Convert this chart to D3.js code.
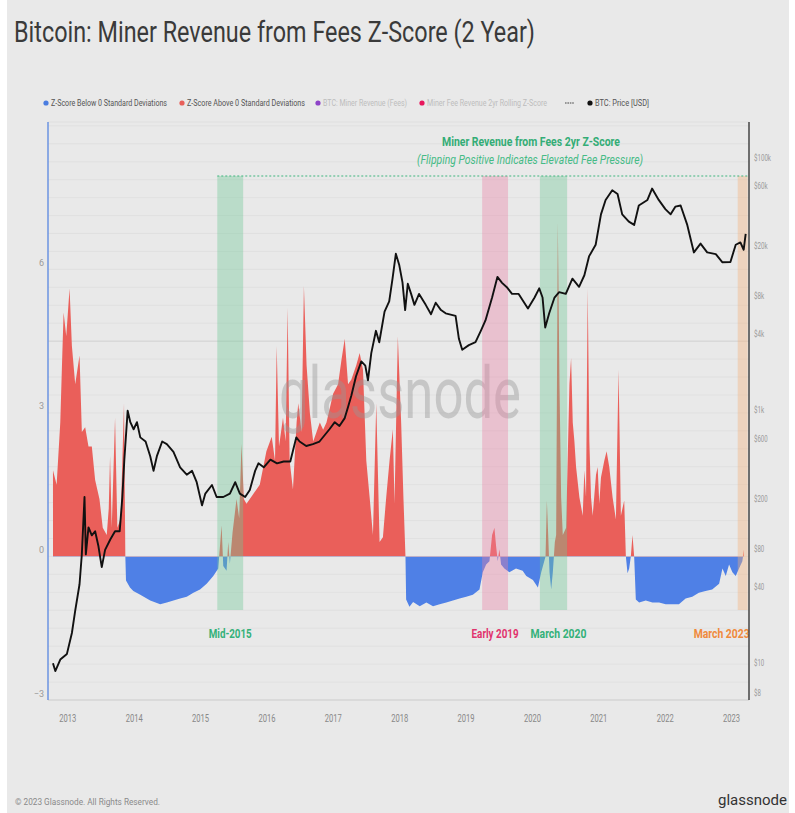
<!DOCTYPE html>
<html>
<head>
<meta charset="utf-8">
<script src="https://cdn.jsdelivr.net/npm/d3@7"></script>
<style>
  body { margin: 0; background: #fff; }
  svg { display: block; }
  text { font-family: Roboto, "Noto Sans", sans-serif; }
</style>
</head>
<body>
<svg id="chart" width="795" height="813"></svg>
<script>
// z-score of miner fee revenue (2yr)
var zDates = [2012.785, 2012.84, 2012.895, 2012.925, 2012.945, 2012.985, 2013.035, 2013.07, 2013.12, 2013.185,
  2013.22, 2013.27, 2013.32, 2013.37, 2013.42, 2013.485, 2013.535, 2013.595, 2013.625, 2013.645,
  2013.67, 2013.72, 2013.755, 2013.805, 2013.855, 2013.875,
  2013.885, 2013.945, 2013.995, 2014.10, 2014.25, 2014.40, 2014.50, 2014.60, 2014.70, 2014.80,
  2014.90, 2015.00, 2015.10, 2015.20, 2015.275, 2015.325, 2015.35, 2015.40, 2015.425, 2015.45,
  2015.49, 2015.55, 2015.59, 2015.625, 2015.66, 2015.70, 2015.80, 2015.90, 2016.00, 2016.08,
  2016.13, 2016.155, 2016.19, 2016.25, 2016.29, 2016.32, 2016.35, 2016.40, 2016.455, 2016.48,
  2016.53, 2016.565, 2016.605, 2016.655, 2016.705, 2016.755, 2016.805, 2016.855, 2016.905, 2016.955,
  2017.005, 2017.08, 2017.13, 2017.18, 2017.23, 2017.28, 2017.355, 2017.405, 2017.455, 2017.505,
  2017.555, 2017.605, 2017.655, 2017.705, 2017.755, 2017.805, 2017.855, 2017.905, 2017.93, 2017.98,
  2018.03, 2018.065, 2018.095,
  2018.105, 2018.155, 2018.21, 2018.31, 2018.41, 2018.51, 2018.61, 2018.71, 2018.81, 2018.91,
  2019.01, 2019.11, 2019.21, 2019.26, 2019.31, 2019.36, 2019.40, 2019.435, 2019.46, 2019.485,
  2019.51, 2019.535, 2019.585, 2019.66, 2019.76, 2019.86, 2019.915, 2020.015, 2020.09, 2020.14,
  2020.205, 2020.225, 2020.245, 2020.265, 2020.29, 2020.315, 2020.345, 2020.365, 2020.39, 2020.415,
  2020.44, 2020.465, 2020.515, 2020.565, 2020.59, 2020.615, 2020.64, 2020.665, 2020.715, 2020.765,
  2020.79, 2020.815, 2020.84, 2020.865, 2020.89, 2020.915, 2020.965, 2020.99, 2021.015, 2021.04,
  2021.09, 2021.125, 2021.165, 2021.215, 2021.265, 2021.305, 2021.34, 2021.39, 2021.415, 2021.44,
  2021.465, 2021.49, 2021.515, 2021.54, 2021.565, 2021.615, 2021.715, 2021.815, 2021.915, 2022.015,
  2022.115, 2022.215, 2022.315, 2022.415, 2022.515, 2022.615, 2022.715, 2022.82, 2022.87, 2022.92,
  2022.97, 2023.02, 2023.07, 2023.12, 2023.17, 2023.195];
var zValues = [1.8, 1.5, 2.8, 4.2, 5.1, 4.6, 5.6, 4.4, 3.6, 4.2,
  2.6, 2.7, 2.3, 2.3, 1.6, 1.2, 0.6, 0.45, 1.0, 2.1,
  0.6, 2.9, 0.6, 0.8, 3.2, 0,
  -0.5, -0.65, -0.72, -0.8, -0.92, -1.0, -0.96, -0.92, -0.88, -0.84,
  -0.76, -0.69, -0.57, -0.41, -0.25, 0.65, -0.2, -0.3, 0.3, -0.15,
  0.5, 1.2, 0.8, 2.35, 1.2, 1.1, 1.3, 1.5, 2.2, 2.5,
  2.0, 4.4, 2.3, 2.9, 2.4, 5.2, 2.0, 1.4, 2.8, 3.2,
  2.6, 5.65, 4.0, 3.0, 2.4, 2.6, 2.8, 2.65, 2.8, 3.1,
  3.4, 3.6, 4.1, 4.55, 3.6, 3.7, 4.0, 4.25, 3.9, 2.0,
  1.24, 0.45, 3.2, 0.3, 0.4, 1.24, 2.0, 2.66, 1.1, 4.6,
  2.8, 1.2, 0,
  -0.9, -1.05, -0.95, -1.04, -0.96, -1.04, -1.0, -0.96, -0.92, -0.88,
  -0.84, -0.8, -0.69, -0.33, -0.17, -0.1, 0.45, 0.6, 0.22, -0.1,
  0.15, -0.17, -0.25, -0.33, -0.25, -0.3, -0.41, -0.49, -0.65, -0.33,
  0, 1.17, 0.45, -0.33, -0.69, -0.33, 0.3, 0.45, 7.0, 3.6,
  1.24, 0.45, 0.6, 3.6, 4.15, 2.8, 2.4, 1.87, 1.24, 0.85,
  1.8, 1.24, 5.6, 2.4, 1.24, 0.85, 1.7, 1.87, 1.1, 1.65,
  2.0, 2.2, 1.87, 1.24, 0.77, 3.9, 0.85, 1.17, 0, -0.35,
  -0.25, 0, 0.45, 0, -0.9, -0.96, -0.92, -0.96, -0.96, -1.0,
  -1.0, -1.0, -0.88, -0.84, -0.76, -0.72, -0.69, -0.57, -0.25, -0.41,
  -0.17, -0.33, -0.41, -0.25, -0.1, 0.15];

// BTC price (USD)
var priceDates = [2012.785, 2012.82, 2012.895, 2012.995, 2013.07, 2013.12, 2013.185, 2013.22, 2013.26, 2013.28,
  2013.32, 2013.37, 2013.42, 2013.47, 2013.52, 2013.57, 2013.65, 2013.72, 2013.79, 2013.83,
  2013.86, 2013.91, 2013.95, 2014.00, 2014.05, 2014.10, 2014.18, 2014.25, 2014.30, 2014.35,
  2014.43, 2014.50, 2014.60, 2014.70, 2014.80, 2014.88, 2014.95, 2015.03, 2015.08, 2015.18,
  2015.25, 2015.35, 2015.45, 2015.53, 2015.60, 2015.68, 2015.75, 2015.83, 2015.88, 2015.96,
  2016.06, 2016.16, 2016.26, 2016.36, 2016.45, 2016.50, 2016.60, 2016.70, 2016.80, 2016.95,
  2017.03, 2017.10, 2017.18, 2017.23, 2017.28, 2017.35, 2017.43, 2017.49, 2017.53, 2017.58,
  2017.65, 2017.70, 2017.78, 2017.85, 2017.90, 2017.95, 2018.00, 2018.05, 2018.09, 2018.13,
  2018.18, 2018.23, 2018.30, 2018.40, 2018.48, 2018.55, 2018.63, 2018.70, 2018.85, 2018.90,
  2018.95, 2019.05, 2019.15, 2019.23, 2019.30, 2019.40, 2019.48, 2019.55, 2019.63, 2019.70,
  2019.80, 2019.94, 2020.04, 2020.11, 2020.16, 2020.20, 2020.26, 2020.34, 2020.41, 2020.51,
  2020.61, 2020.71, 2020.79, 2020.86, 2020.96, 2021.04, 2021.11, 2021.21, 2021.29, 2021.36,
  2021.46, 2021.54, 2021.61, 2021.74, 2021.81, 2021.91, 2022.01, 2022.09, 2022.16, 2022.24,
  2022.34, 2022.44, 2022.54, 2022.64, 2022.77, 2022.87, 2022.99, 2023.07, 2023.14, 2023.19,
  2023.22];
var priceValues = [11.3, 9.8, 12.1, 13.4, 19.6, 29.5, 47.6, 82.6, 233, 82,
  134, 116, 125, 95, 65, 89, 108, 125, 125, 233,
  460, 1120, 910, 800, 910, 690, 640, 490, 375, 490,
  640, 610, 530, 400, 350, 375, 305, 200, 248, 290,
  233, 233, 248, 305, 248, 233, 265, 375, 430, 400,
  460, 430, 445, 445, 690, 640, 590, 610, 640, 800,
  910, 850, 980, 1200, 1480, 2100, 2750, 2550, 1950, 3200,
  4800, 3900, 6800, 8200, 12400, 19500, 16000, 11600, 7000, 11300,
  9400, 7700, 9400, 7700, 6500, 8000, 7000, 6600, 6300, 4150,
  3400, 3700, 3900, 4800, 5800, 8800, 12800, 11500, 10500, 9400,
  9400, 7200, 8800, 10400, 8800, 5100, 6600, 8800, 9700, 9400,
  12400, 10700, 13200, 18600, 23000, 40000, 52000, 62000, 58000, 40000,
  35000, 33000, 47000, 52000, 64000, 52000, 44000, 40000, 46000, 47000,
  33000, 20000, 23500, 20000, 19400, 16700, 16800, 23000, 24000, 21000,
  28000];

var yearTicks = [2013, 2014, 2015, 2016, 2017, 2018, 2019, 2020, 2021, 2022, 2023];
var zTicks = [-3, 0, 3, 6];
var priceTicks = [10, 40, 80, 200, 600, 1000, 4000, 8000, 20000, 60000, 100000];
var priceTickLabels = ["$10", "$40", "$80", "$200", "$600", "$1k", "$4k", "$8k", "$20k", "$60k", "$100k"];
var priceMinLabel = "$8";

var bandNames = ["Mid-2015", "Early 2019", "March 2020", "March 2023"];
var bandStarts = [2015.26, 2019.25, 2020.12, 2023.10];
var bandEnds = [2015.65, 2019.64, 2020.53, 2023.25];

var legendLabels = ["Z-Score Below 0 Standard Deviations", "Z-Score Above 0 Standard Deviations",
  "BTC: Miner Revenue (Fees)", "Miner Fee Revenue 2yr Rolling Z-Score", "BTC: Price [USD]"];

(function () {
    // styles
    var bandFill = ["rgba(110,200,150,0.38)", "rgba(235,130,165,0.38)", "rgba(110,200,150,0.38)", "rgba(245,175,120,0.38)"];
    var bandText = ["#34b179", "#e1336d", "#34b179", "#f08a3c"];
    var legendDot = ["#4a7de0", "#e8605a", "#8e44c8", "#e8175d", "#111"];
    var legendInk = ["#555", "#555", "#bdbdbd", "#bdbdbd", "#555"];
    var legendX = [46, 182, 318, 422, 590];
    var legendW = [116, 118, 84, 120, 54];

    var svg = d3.select("#chart");
    var plotLeft = 48, plotRight = 749, plotTop = 122, plotBottom = 700;

    svg.append("rect").attr("x", 7).attr("y", 0).attr("width", 782).attr("height", 813).attr("fill", "#e9e9e9");

    var x = d3.scaleLinear().domain([2012.71, 2023.27]).range([plotLeft, plotRight]);
    var yZ = d3.scaleLinear().domain([-3, 9.08]).range([plotBottom, plotTop]);
    var yP = d3.scaleLog().domain([5.79, 214800]).range([plotBottom, plotTop]);

    // title
    svg.append("text").attr("x", 14).attr("y", 42)
        .attr("font-size", 30).attr("fill", "#3a3a3a")
        .attr("textLength", 521).attr("lengthAdjust", "spacingAndGlyphs")
        .text("Bitcoin: Miner Revenue from Fees Z-Score (2 Year)");

    // legend
    var leg = svg.append("g").selectAll("g")
        .data(legendLabels)
        .enter()
        .append("g");
    leg.append("circle")
        .attr("cx", function (d, i) { return legendX[i]; })
        .attr("cy", 103)
        .attr("r", 2.6)
        .attr("fill", function (d, i) { return legendDot[i]; });
    leg.append("text")
        .attr("x", function (d, i) { return legendX[i] + 5; })
        .attr("y", 106)
        .attr("font-size", 8.5)
        .attr("fill", function (d, i) { return legendInk[i]; })
        .attr("textLength", function (d, i) { return legendW[i]; })
        .attr("lengthAdjust", "spacingAndGlyphs")
        .text(function (d) { return d; });
    svg.append("line").attr("x1", 565).attr("x2", 574).attr("y1", 103).attr("y2", 103)
        .attr("stroke", "#444").attr("stroke-width", 1).attr("stroke-dasharray", "1.6,0.8");

    // grid
    svg.append("g").selectAll("line")
        .data(d3.range(-3, 9.01, 0.375))
        .enter()
        .append("line")
        .attr("x1", plotLeft).attr("x2", plotRight)
        .attr("y1", function (d) { return yZ(d); })
        .attr("y2", function (d) { return yZ(d); })
        .attr("stroke", function (d) { return d === 4.5 ? "#c9c9c9" : "#dedede"; })
        .attr("stroke-width", 0.8);
    svg.append("line").attr("x1", plotLeft).attr("x2", plotRight).attr("y1", plotTop).attr("y2", plotTop)
        .attr("stroke", "#dcdcdc").attr("stroke-width", 0.8);

    // z-score area, red above zero and blue below
    var zData = zDates.map(function (d, i) { return { t: d, z: zValues[i] }; });
    var defs = svg.append("defs");
    defs.append("clipPath").attr("id", "above").append("rect")
        .attr("x", plotLeft).attr("y", plotTop).attr("width", plotRight - plotLeft).attr("height", yZ(0) - plotTop);
    defs.append("clipPath").attr("id", "below").append("rect")
        .attr("x", plotLeft).attr("y", yZ(0)).attr("width", plotRight - plotLeft).attr("height", plotBottom - yZ(0));

    var area = d3.area()
        .x(function (d) { return x(d.t); })
        .y0(yZ(0))
        .y1(function (d) { return yZ(d.z); });

    svg.append("path").datum(zData).attr("d", area).attr("fill", "#ea5f5a").attr("clip-path", "url(#above)");
    svg.append("path").datum(zData).attr("d", area).attr("fill", "#4f80e6").attr("clip-path", "url(#below)");

    // watermark
    svg.append("text").attr("x", 279).attr("y", 418)
        .attr("font-family", "'Open Sans', Lato, sans-serif")
        .attr("font-size", 72).attr("fill", "rgba(150,150,150,0.42)")
        .attr("textLength", 242).attr("lengthAdjust", "spacingAndGlyphs")
        .text("glassnode");

    // highlighted periods
    var bandTop = 176, bandBottom = 610;
    var bands = svg.append("g").selectAll("g")
        .data(bandNames)
        .enter()
        .append("g");
    bands.append("rect")
        .attr("x", function (d, i) { return x(bandStarts[i]); })
        .attr("y", bandTop)
        .attr("width", function (d, i) { return x(bandEnds[i]) - x(bandStarts[i]); })
        .attr("height", bandBottom - bandTop)
        .attr("fill", function (d, i) { return bandFill[i]; });
    bands.append("text")
        .attr("x", function (d, i) {
            if (i === 3) return x(bandEnds[i]) + 2;
            return (x(bandStarts[i]) + x(bandEnds[i])) / 2 + (i === 2 ? 5 : 0);
        })
        .attr("y", 638)
        .attr("text-anchor", function (d, i) { return i === 3 ? "end" : "middle"; })
        .attr("font-size", 13.5).attr("font-weight", "bold")
        .attr("fill", function (d, i) { return bandText[i]; })
        .attr("textLength", function (d, i) { return [43, 47, 56, 56][i]; })
        .attr("lengthAdjust", "spacingAndGlyphs")
        .text(function (d) { return d; });

    svg.append("line")
        .attr("x1", x(bandStarts[0])).attr("x2", plotRight - 1)
        .attr("y1", bandTop).attr("y2", bandTop)
        .attr("stroke", "#3fb57f").attr("stroke-width", 1.1).attr("stroke-dasharray", "2,2");

    svg.append("text").attr("x", 531).attr("y", 146).attr("text-anchor", "middle")
        .attr("font-size", 12.5).attr("font-weight", "bold").attr("fill", "#33ad76")
        .attr("textLength", 178).attr("lengthAdjust", "spacingAndGlyphs")
        .text("Miner Revenue from Fees 2yr Z-Score");
    svg.append("text").attr("x", 530).attr("y", 164).attr("text-anchor", "middle")
        .attr("font-size", 12).attr("font-style", "italic").attr("fill", "#45bb86")
        .attr("textLength", 226).attr("lengthAdjust", "spacingAndGlyphs")
        .text("(Flipping Positive Indicates Elevated Fee Pressure)");

    // price line
    var line = d3.line()
        .x(function (d, i) { return x(priceDates[i]); })
        .y(function (d) { return yP(d); });
    svg.append("path").datum(priceValues).attr("d", line)
        .attr("fill", "none").attr("stroke", "#111").attr("stroke-width", 1.9)
        .attr("stroke-linejoin", "round");

    // axes
    svg.append("line").attr("x1", plotLeft).attr("x2", plotRight).attr("y1", plotBottom).attr("y2", plotBottom)
        .attr("stroke", "#cfcfcf");
    svg.append("line").attr("x1", plotLeft).attr("x2", plotLeft).attr("y1", plotTop).attr("y2", plotBottom)
        .attr("stroke", "#6b93e0").attr("stroke-width", 1.5);
    svg.append("line").attr("x1", plotRight).attr("x2", plotRight).attr("y1", plotTop).attr("y2", plotBottom)
        .attr("stroke", "#444").attr("stroke-width", 1.5);

    var xAxis = svg.append("g").attr("transform", "translate(0," + (plotBottom + 19) + ")")
        .call(d3.axisBottom(x).tickValues(yearTicks).tickFormat(d3.format("d")).tickSize(0));
    xAxis.select(".domain").remove();
    xAxis.selectAll("text").attr("dy", 0).attr("font-size", 11).attr("fill", "#888")
        .attr("font-family", "Roboto, sans-serif")
        .attr("textLength", 17).attr("lengthAdjust", "spacingAndGlyphs");

    var zAxis = svg.append("g").attr("transform", "translate(" + (plotLeft - 4) + ",0)")
        .call(d3.axisLeft(yZ).tickValues(zTicks).tickSize(0).tickPadding(0));
    zAxis.select(".domain").remove();
    zAxis.selectAll("text").attr("dy", -4).attr("font-size", 9).attr("fill", "#999")
        .attr("font-family", "Roboto, sans-serif");

    var pAxis = svg.append("g").attr("transform", "translate(" + (plotRight + 5) + ",0)")
        .call(d3.axisRight(yP).tickValues(priceTicks).tickSize(0).tickPadding(0)
            .tickFormat(function (d, i) { return priceTickLabels[i]; }));
    pAxis.select(".domain").remove();
    pAxis.selectAll("text").attr("dy", -4).attr("font-size", 9).attr("fill", "#999")
        .attr("font-family", "Roboto, sans-serif")
        .attr("textLength", function (d, i) { return priceTickLabels[i].length * 3.4; })
        .attr("lengthAdjust", "spacingAndGlyphs");
    svg.append("text").attr("x", plotRight + 5).attr("y", yP(yP.domain()[0]) - 4)
        .attr("font-size", 9).attr("fill", "#999")
        .attr("textLength", priceMinLabel.length * 3.4).attr("lengthAdjust", "spacingAndGlyphs")
        .text(priceMinLabel);

    // footer
    svg.append("text").attr("x", 15).attr("y", 805)
        .attr("font-size", 9).attr("fill", "#8a8a8a")
        .attr("textLength", 145).attr("lengthAdjust", "spacingAndGlyphs")
        .text("© 2023 Glassnode. All Rights Reserved.");
    svg.append("text").attr("x", 787).attr("y", 805).attr("text-anchor", "end")
        .attr("font-family", "'Open Sans', Lato, sans-serif")
        .attr("font-size", 15.5).attr("fill", "#333")
        .attr("textLength", 69).attr("lengthAdjust", "spacingAndGlyphs")
        .text("glassnode");
})();
</script>
</body>
</html>
